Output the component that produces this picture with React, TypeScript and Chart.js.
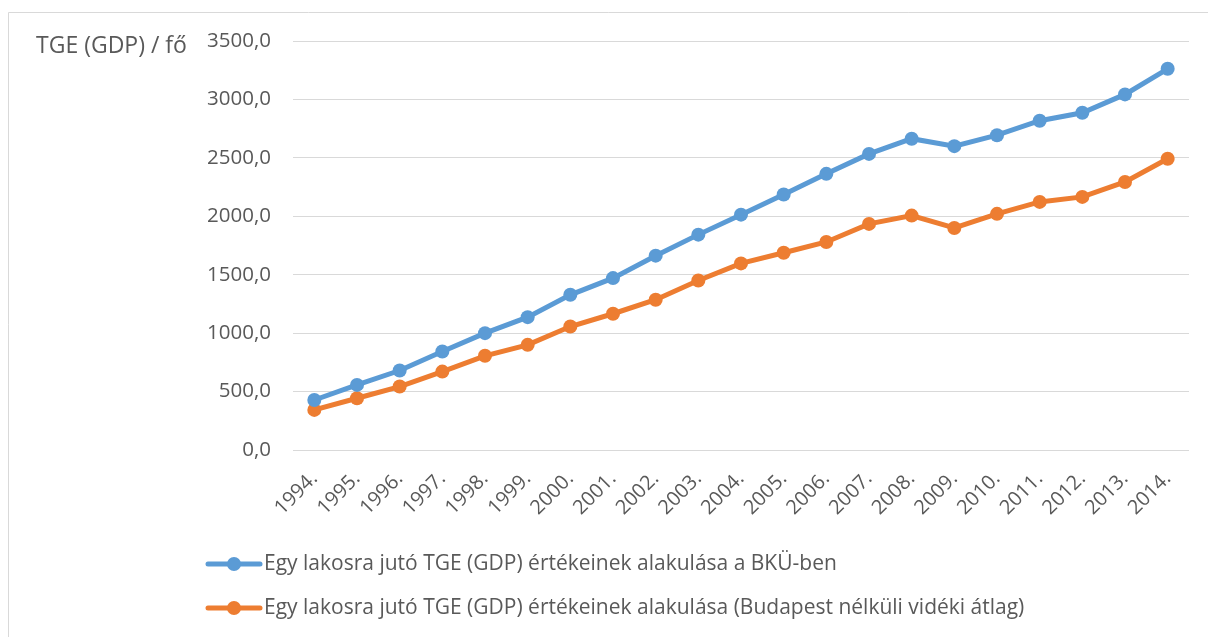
import React, { useEffect, useRef } from "react";
import { Chart, registerables } from "chart.js";

Chart.register(...registerables);

const years = [
  "1994.", "1995.", "1996.", "1997.", "1998.", "1999.", "2000.", "2001.", "2002.", "2003.",
  "2004.", "2005.", "2006.", "2007.", "2008.", "2009.", "2010.", "2011.", "2012.", "2013.", "2014.",
];
const bkuValues = [
  428, 557, 680, 843, 1000, 1137, 1328, 1471, 1663, 1843,
  2014, 2186, 2363, 2534, 2664, 2600, 2694, 2818, 2886, 3043, 3262,
];
const videkValues = [
  343, 443, 543, 671, 806, 900, 1057, 1166, 1286, 1451,
  1597, 1688, 1780, 1935, 2006, 1900, 2021, 2123, 2166, 2294, 2492,
];
const seriesLabels = [
  "Egy lakosra jutó TGE (GDP) értékeinek alakulása a BKÜ-ben",
  "Egy lakosra jutó TGE (GDP) értékeinek alakulása (Budapest nélküli vidéki átlag)",
];
const seriesColors = ["#5B9BD5", "#ED7D31"];
const axisTitle = "TGE (GDP) / fő";
const yMin = 0;
const yMax = 3500;
const yStep = 500;

const TEXT = "#595959";
const GRID = "#d9d9d9";
const AXIS_FONT = '"Open Sans", "DejaVu Sans", sans-serif';
const LEGEND_FONT = '"Liberation Sans Narrow", "Open Sans", sans-serif';

export default function App() {
  const ref = useRef<HTMLCanvasElement>(null);

  useEffect(() => {
    if (!ref.current) return;
    const decor = {
      id: "decor",
      beforeDraw(chart: any) {
        const ctx = chart.ctx;
        ctx.save();
        ctx.fillStyle = "#ffffff";
        ctx.fillRect(0, 0, chart.width, chart.height);
        ctx.strokeStyle = GRID;
        ctx.lineWidth = 1;
        ctx.beginPath();
        ctx.moveTo(8.5, chart.height);
        ctx.lineTo(8.5, 12.5);
        ctx.lineTo(chart.width, 12.5);
        ctx.stroke();
        ctx.restore();
      },
      afterDraw(chart: any) {
        const ctx = chart.ctx;
        ctx.save();
        // axis title
        ctx.fillStyle = TEXT;
        ctx.font = `23px ${AXIS_FONT}`;
        ctx.textAlign = "left";
        ctx.textBaseline = "middle";
        ctx.fillText(axisTitle, 36, 46);
        // legend
        chart.data.datasets.forEach((ds: any, i: number) => {
          const y = 564 + i * 44;
          ctx.strokeStyle = ds.borderColor;
          ctx.lineWidth = 5;
          ctx.lineCap = "round";
          ctx.beginPath();
          ctx.moveTo(208, y);
          ctx.lineTo(260, y);
          ctx.stroke();
          ctx.fillStyle = ds.borderColor;
          ctx.beginPath();
          ctx.arc(234, y, 7, 0, Math.PI * 2);
          ctx.fill();
          ctx.fillStyle = TEXT;
          ctx.font = `21px ${LEGEND_FONT}`;
          ctx.textAlign = "left";
          ctx.textBaseline = "middle";
          ctx.fillText(ds.label, 264, y);
        });
        ctx.restore();
      },
    };

    const chart = new Chart(ref.current, {
      type: "line",
      data: {
        labels: years,
        datasets: [
          {
            label: seriesLabels[0],
            data: bkuValues,
            borderColor: seriesColors[0],
            backgroundColor: seriesColors[0],
            borderWidth: 5,
            pointRadius: 7,
            pointBorderWidth: 0,
            pointBackgroundColor: seriesColors[0],
            tension: 0,
          },
          {
            label: seriesLabels[1],
            data: videkValues,
            borderColor: seriesColors[1],
            backgroundColor: seriesColors[1],
            borderWidth: 5,
            pointRadius: 7,
            pointBorderWidth: 0,
            pointBackgroundColor: seriesColors[1],
            tension: 0,
          },
        ],
      },
      options: {
        responsive: false,
        animation: false,
        devicePixelRatio: 1,
        layout: { padding: { left: 0, top: 41, right: 19, bottom: 107 } },
        plugins: {
          legend: { display: false },
          tooltip: { enabled: false },
          title: { display: false },
        },
        scales: {
          x: {
            offset: true,
            grid: { display: false, drawTicks: false },
            border: { display: false },
            ticks: {
              color: TEXT,
              font: { family: AXIS_FONT, size: 20 },
              maxRotation: 45,
              minRotation: 45,
              autoSkip: false,
              padding: 17,
            },
            afterFit(scale: any) {
              scale.height = 80;
            },
          },
          y: {
            min: yMin,
            max: yMax,
            grid: { color: GRID, lineWidth: 1, drawTicks: false },
            border: { display: false },
            ticks: {
              stepSize: yStep,
              color: TEXT,
              font: { family: AXIS_FONT, size: 20.5 },
              padding: 22,
              callback: (v: any) => Number(v).toFixed(1).replace(".", ","),
            },
            afterFit(scale: any) {
              scale.width = 293;
            },
          },
        },
      },
      plugins: [decor],
    });
    return () => chart.destroy();
  }, []);

  return (
    <div style={{ position: "fixed", left: 0, top: 0, width: 1208, height: 637, background: "#fff" }}>
      <canvas ref={ref} width={1208} height={637} style={{ display: "block", width: 1208, height: 637 }} />
    </div>
  );
}
